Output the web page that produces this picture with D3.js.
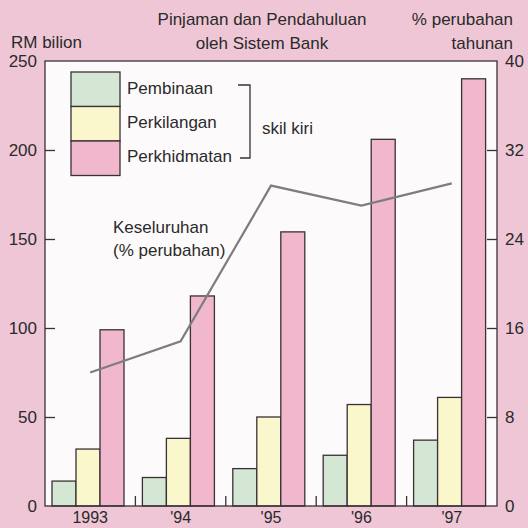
<!DOCTYPE html>
<html>
<head>
<meta charset="utf-8">
<script src="https://cdn.jsdelivr.net/npm/d3@7"></script>
<style>
  body { margin: 0; background: #efc6d6; }
  svg { display: block; font-family: "Liberation Sans", Arial, sans-serif; }
</style>
</head>
<body>
<div id="chart-area"></div>
<script>
// data
var years = ["1993", "'94", "'95", "'96", "'97"];
var sectors = ["Pembinaan", "Perkilangan", "Perkhidmatan"];
var pembinaan = [14, 16, 21, 28.5, 37];
var perkilangan = [32, 38, 50, 57, 61];
var perkhidmatan = [99, 118, 154, 206, 240];
var keseluruhan = [12, 14.8, 28.8, 27, 29];
var leftTicks = [0, 50, 100, 150, 200, 250];
var rightTicks = [0, 8, 16, 24, 32, 40];

var colors = { "Pembinaan": "#d4e7d4", "Perkilangan": "#fbf7cc", "Perkhidmatan": "#f1b7cd" };

var margin = { left: 45, right: 31, top: 61, bottom: 22 };
var width = 528 - margin.left - margin.right,
	height = 528 - margin.top - margin.bottom;

var svg = d3.select("#chart-area")
	.append("svg")
	.attr("width", 528)
	.attr("height", 528);

var g = svg.append("g")
	.attr("transform", "translate(" + margin.left + "," + margin.top + ")");

// plot background
g.append("rect")
	.attr("width", width)
	.attr("height", height)
	.attr("fill", "#fdfafb");

// scales
var x0 = d3.scaleBand().domain(years).range([0, width]);
var x1 = d3.scaleBand().domain(sectors).range([7, 79]);
var y = d3.scaleLinear().domain([0, 250]).range([height, 0]);
var y2 = d3.scaleLinear().domain([0, 40]).range([height, 0]);

var rows = years.map(function (yr, i) {
	return { year: yr, values: [pembinaan[i], perkilangan[i], perkhidmatan[i]] };
});

// bars
var groups = g.selectAll(".grp")
	.data(rows)
	.enter()
	.append("g")
	.attr("class", "grp")
	.attr("transform", function (d) { return "translate(" + x0(d.year) + ",0)"; });

groups.selectAll("rect")
	.data(function (d) {
		return d.values.map(function (v, j) { return { key: sectors[j], value: v }; });
	})
	.enter()
	.append("rect")
	.attr("x", function (d) { return x1(d.key); })
	.attr("y", function (d) { return y(d.value); })
	.attr("width", x1.bandwidth())
	.attr("height", function (d) { return height - y(d.value); })
	.attr("fill", function (d) { return colors[d.key]; })
	.attr("stroke", "#3a3036")
	.attr("stroke-width", 1.3);

// line
var line = d3.line()
	.x(function (d, i) { return x0(years[i]) + x0.bandwidth() / 2; })
	.y(function (d) { return y2(d); });

g.append("path")
	.datum(keseluruhan)
	.attr("d", line)
	.attr("fill", "none")
	.attr("stroke", "#7d7d7d")
	.attr("stroke-width", 2.2);

// frame
g.append("rect")
	.attr("width", width)
	.attr("height", height)
	.attr("fill", "none")
	.attr("stroke", "#3a3036")
	.attr("stroke-width", 1.3);

// axes
var yAxis = d3.axisLeft(y).tickValues(leftTicks).tickSizeInner(-10).tickSizeOuter(0).tickPadding(8);
var yAx = g.append("g").call(yAxis);

var y2Axis = d3.axisRight(y2).tickValues(rightTicks).tickSizeInner(-10).tickSizeOuter(0).tickPadding(8);
var y2Ax = g.append("g").attr("transform", "translate(" + width + ",0)").call(y2Axis);

var xAxis = d3.axisBottom(x0).tickSize(0).tickPadding(6);
var xAx = g.append("g").attr("transform", "translate(0," + height + ")").call(xAxis);

[yAx, y2Ax, xAx].forEach(function (ax) {
	ax.select(".domain").remove();
	ax.selectAll("line").attr("stroke", "#3a3036").attr("stroke-width", 1.3);
	ax.selectAll("text").attr("font-size", "17px").attr("fill", "#2a2a2a").attr("font-family", "Liberation Sans, Arial, sans-serif");
});
// hide edge ticks
yAx.selectAll(".tick line").filter(function (d) { return d === 0 || d === 250; }).remove();
y2Ax.selectAll(".tick line").filter(function (d) { return d === 0 || d === 40; }).remove();
xAx.selectAll("text").attr("dy", "0.71em").attr("font-size", "16px");

// group separator ticks at bottom
g.selectAll(".sep")
	.data(years.slice(1))
	.enter()
	.append("line")
	.attr("x1", function (d) { return x0(d); })
	.attr("x2", function (d) { return x0(d); })
	.attr("y1", height)
	.attr("y2", height - 10)
	.attr("stroke", "#3a3036")
	.attr("stroke-width", 1.3);

// titles
function label(x, yy, txt, anchor, size) {
	svg.append("text")
		.attr("x", x)
		.attr("y", yy)
		.attr("text-anchor", anchor || "start")
		.attr("font-size", size || "17px")
		.attr("fill", "#2a2a2a")
		.text(txt);
}
label(262, 25, "Pinjaman dan Pendahuluan", "middle");
label(262, 49, "oleh Sistem Bank", "middle");
label(11, 48, "RM bilion", "start");
label(513, 25, "% perubahan", "end");
label(513, 49, "tahunan", "end");

// legend
var legend = svg.append("g").attr("class", "legend");
legend.selectAll("rect")
	.data(sectors)
	.enter()
	.append("rect")
	.attr("x", 71)
	.attr("y", function (d, i) { return 72 + i * 34.5; })
	.attr("width", 49)
	.attr("height", 34.5)
	.attr("fill", function (d) { return colors[d]; })
	.attr("stroke", "#3a3036")
	.attr("stroke-width", 1.3);

legend.selectAll("text")
	.data(sectors)
	.enter()
	.append("text")
	.attr("x", 127)
	.attr("y", function (d, i) { return 90 + i * 34; })
	.attr("dominant-baseline", "middle")
	.attr("font-size", "17px")
	.attr("fill", "#2a2a2a")
	.text(function (d) { return d; });

legend.append("path")
	.attr("d", "M238,85 L250,85 L250,158 L240,158")
	.attr("fill", "none")
	.attr("stroke", "#3a3036")
	.attr("stroke-width", 1.3);

label(262, 134, "skil kiri", "start");
label(113, 233, "Keseluruhan", "start");
label(113, 256, "(% perubahan)", "start");
</script>
</body>
</html>
